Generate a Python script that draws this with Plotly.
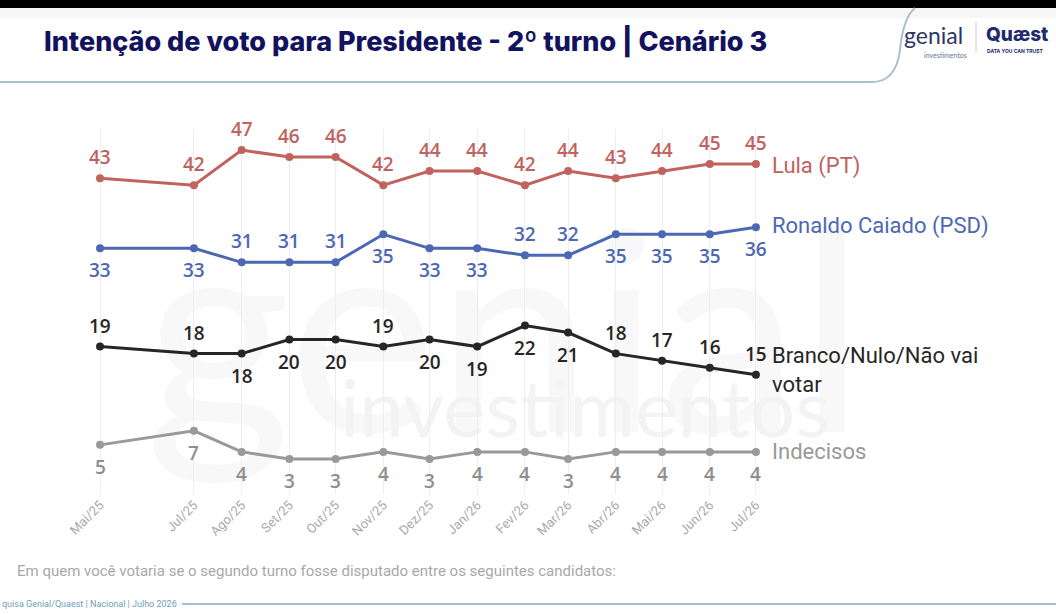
import plotly.graph_objects as go

# ---------------- data ----------------
months = ["2025-05-01", "2025-07-01", "2025-08-01", "2025-09-01", "2025-10-01",
          "2025-11-01", "2025-12-01", "2026-01-01", "2026-02-01", "2026-03-01",
          "2026-04-01", "2026-05-01", "2026-06-01", "2026-07-01"]
tick_labels = ["Mai/25", "Jul/25", "Ago/25", "Set/25", "Out/25", "Nov/25", "Dez/25",
               "Jan/26", "Fev/26", "Mar/26", "Abr/26", "Mai/26", "Jun/26", "Jul/26"]

lula = [43, 42, 47, 46, 46, 42, 44, 44, 42, 44, 43, 44, 45, 45]
caiado = [33, 33, 31, 31, 31, 35, 33, 33, 32, 32, 35, 35, 35, 36]
branco = [19, 18, 18, 20, 20, 19, 20, 19, 22, 21, 18, 17, 16, 15]
indecisos = [5, 7, 4, 3, 3, 4, 3, 4, 4, 3, 4, 4, 4, 4]

# label placement: a = above, b = below
lula_pos = ["a"] * 14
caiado_pos = ["b", "b", "a", "a", "a", "b", "b", "b", "a", "a", "b", "b", "b", "b"]
branco_pos = ["a", "a", "b", "b", "b", "a", "b", "b", "b", "b", "a", "a", "a", "a"]
indecisos_pos = ["b"] * 14

series = [
    ("Lula (PT)", -2, lula, lula_pos, "#c0625e", "#c0625e"),
    ("Ronaldo Caiado (PSD)", 1, caiado, caiado_pos, "#4d68b3", "#4d68b3"),
    ("Branco/Nulo/Não vai<br>votar", 5, branco, branco_pos, "#262626", "#262626"),
    ("Indecisos", 0, indecisos, indecisos_pos, "#999999", "#8e8e8e"),
]

W, H = 1056, 614
ML, MR, MT, MB = 60, 26, 129, 120
PW, PH = W - ML - MR, H - MT - MB


def px(x, y):
    """pixel -> paper coords"""
    return (x - ML) / PW, 1 - (y - MT) / PH


fig = go.Figure()

annotations = []
for name, sh, vals, pos, color, tcolor in series:
    fig.add_trace(go.Scatter(
        x=months, y=vals, mode="lines+markers", name=name.replace("<br>", " "),
        line=dict(color=color, width=3),
        marker=dict(color=color, size=8),
        cliponaxis=False, showlegend=False, hoverinfo="skip"))
    for d, v, p in zip(months, vals, pos):
        annotations.append(dict(
            x=d, y=v, xref="x", yref="y", text=str(v), showarrow=False,
            yshift=21 if p == "a" else -22,
            font=dict(family="Open Sans", size=19, color=tcolor, weight=600)))
    annotations.append(dict(
        x=months[-1], y=vals[-1], xref="x", yref="y", text=name, showarrow=False,
        xanchor="left", yanchor="middle", align="left", xshift=14, yshift=sh,
        font=dict(family="Roboto", size=22, color=color)))

# header / footer texts
annotations += [
    dict(x=px(42, 0)[0], y=px(0, 42)[1], xref="paper", yref="paper",
         text="Intenção de voto para Presidente - 2º turno | Cenário 3",
         showarrow=False, xanchor="left", yanchor="middle",
         font=dict(family="Inter", size=27, color="#12125e", weight=800)),
    dict(x=px(15, 0)[0], y=px(0, 571)[1], xref="paper", yref="paper",
         text="Em quem você votaria se o segundo turno fosse disputado entre os seguintes candidatos:",
         showarrow=False, xanchor="left", yanchor="middle",
         font=dict(family="Roboto", size=15, color="#a8a8a8")),
    dict(x=px(0, 0)[0], y=px(0, 604)[1], xref="paper", yref="paper",
         text="quisa Genial/Quaest | Nacional | Julho 2026",
         showarrow=False, xanchor="left", yanchor="middle",
         font=dict(family="Roboto", size=9, color="#6f9dba")),
    # logos
    dict(x=px(902, 0)[0], y=px(0, 35)[1], xref="paper", yref="paper",
         text="genial", showarrow=False, xanchor="left", yanchor="middle",
         font=dict(family="Lato", size=23, color="#2b3766")),
    dict(x=px(922, 0)[0], y=px(0, 55)[1], xref="paper", yref="paper",
         text="investimentos", showarrow=False, xanchor="left", yanchor="middle",
         font=dict(family="Lato", size=7, color="#6a7490")),
    dict(x=px(984, 0)[0], y=px(0, 35)[1], xref="paper", yref="paper",
         text="Quæst", showarrow=False, xanchor="left", yanchor="middle",
         font=dict(family="Inter", size=19, color="#1e2a6e", weight=800)),
    dict(x=px(985, 0)[0], y=px(0, 51)[1], xref="paper", yref="paper",
         text="DATA YOU CAN TRUST", showarrow=False, xanchor="left", yanchor="middle",
         font=dict(family="Inter", size=5, color="#1e2a6e", weight=700)),
]

shapes = []
# top black band
x0, y0 = px(0, 0)
x1, y1 = px(W, 8)
shapes.append(dict(type="rect", xref="paper", yref="paper", x0=x0, y0=y1, x1=x1, y1=y0,
                   fillcolor="#000000", line=dict(width=0), layer="above"))
# light band under it
x0, y0 = px(0, 8)
x1, y1 = px(W, 18)
shapes.append(dict(type="rect", xref="paper", yref="paper", x0=x0, y0=y1, x1=x1, y1=y0,
                   fillcolor="#f6f6f6", line=dict(width=0), layer="below"))
# header rule with curve up to logo area
p0 = px(0, 82); p1 = px(872, 82); c1 = px(896, 82); p2 = px(900, 50); c2 = px(903, 18); p3 = px(915, 8)
path = (f"M {p0[0]},{p0[1]} L {p1[0]},{p1[1]} Q {c1[0]},{c1[1]} {p2[0]},{p2[1]} "
        f"Q {c2[0]},{c2[1]} {p3[0]},{p3[1]}")
shapes.append(dict(type="path", xref="paper", yref="paper", path=path,
                   line=dict(color="#a9c0cc", width=2), layer="above"))
# logo separator
a = px(976, 22); b = px(976, 52)
shapes.append(dict(type="line", xref="paper", yref="paper", x0=a[0], y0=a[1], x1=b[0], y1=b[1],
                   line=dict(color="#c8ccd8", width=1)))
# footer rule
a = px(182, 604); b = px(W, 604)
shapes.append(dict(type="line", xref="paper", yref="paper", x0=a[0], y0=a[1], x1=b[0], y1=b[1],
                   line=dict(color="#9fc1d6", width=2)))
# watermark (below traces)
a = px(170, 200); b = px(840, 440)
shapes.append(dict(type="rect", xref="paper", yref="paper", x0=a[0], y0=b[1], x1=b[0], y1=a[1],
                   line=dict(width=0), fillcolor="rgba(0,0,0,0)", layer="below",
                   label=dict(text="genial", textposition="middle center",
                              font=dict(family="Lato", size=280, color="#f8f8f8"))))
a = px(330, 365); b = px(840, 445)
shapes.append(dict(type="rect", xref="paper", yref="paper", x0=a[0], y0=b[1], x1=b[0], y1=a[1],
                   line=dict(width=0), fillcolor="rgba(0,0,0,0)", layer="below",
                   label=dict(text="investimentos", textposition="middle center",
                              font=dict(family="Lato", size=80, color="#f3f3f3"))))

fig.update_layout(
    width=W, height=H,
    margin=dict(l=ML, r=MR, t=MT, b=MB),
    paper_bgcolor="#ffffff", plot_bgcolor="rgba(0,0,0,0)",
    annotations=annotations, shapes=shapes,
    xaxis=dict(type="date", range=["2025-04-05", "2026-12-26"],
               tickvals=months, ticktext=tick_labels, tickangle=-45,
               tickfont=dict(family="Roboto", size=13, color="#aaaaaa"),
               showgrid=True, gridcolor="#eeeeee", gridwidth=1,
               zeroline=False, showline=False, ticks=""),
    yaxis=dict(range=[-2, 50], visible=False, showgrid=False, zeroline=False),
)

fig.write_html("out.html")
